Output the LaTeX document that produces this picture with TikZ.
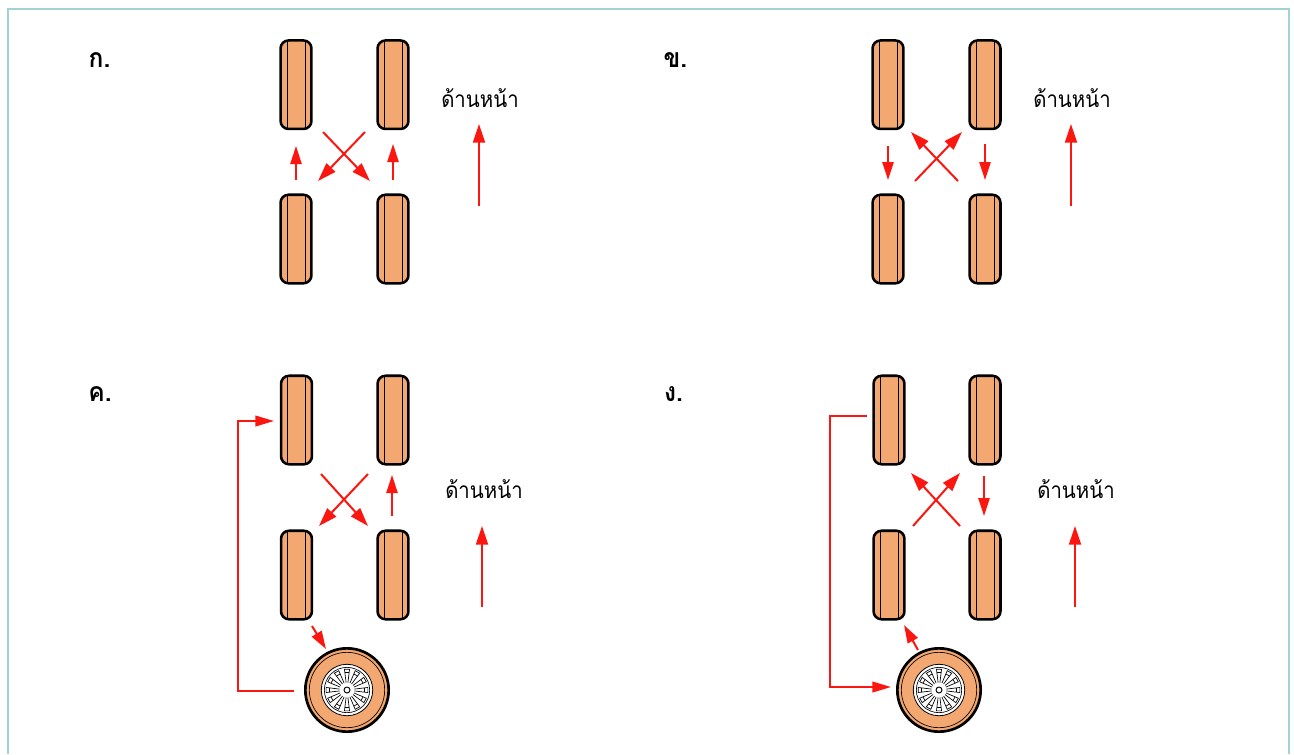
\documentclass[tikz,border=0pt]{standalone}
\usepackage{fontspec}
\usetikzlibrary{arrows.meta,calc}
\newfontfamily\thaifont[Script=Thai]{Loma}
\definecolor{tyre}{HTML}{F2A870}
\definecolor{frame}{HTML}{A3D3CF}
\definecolor{mark}{HTML}{FB1610}
\newcommand{\frontlabel}{\scalebox{.9}[1]{\thaifont ด้านหน้า}}
\newcommand{\panelletter}[1]{\scalebox{.92}[1]{\thaifont #1}}
% Alloy rim: twelve windows round a small hub
\newcommand{\wheeldetail}[1]{%
  \foreach \a in {0,30,...,330}{
    \draw[line width=.5pt] (#1) ++(\a-7:7.5) -- ++(\a-7:13.5)
      arc[start angle=\a-7,end angle=\a+7,radius=21]
      -- ++(\a+7+180:13.5);
    \draw[line width=.5pt]
      ($(#1)+(\a-7:17.5)$) -- ($(#1)+(\a+7:17.5)$);
  }
  \draw[line width=.7pt] (#1) circle[radius=3];
}
\tikzset{
  x=.75pt,y=-.75pt,
  wheelside/.style={
    draw=black,line width=1.9pt,fill=tyre,rounded corners=6pt,
    minimum width=23.2pt,minimum height=66.4pt,inner sep=0pt,outer sep=0pt,
    path picture={
      \draw[line width=.55pt]
        ([xshift=5pt]path picture bounding box.north west) --
        ([xshift=5pt]path picture bounding box.south west)
        ([xshift=-4.6pt]path picture bounding box.north east) --
        ([xshift=-4.6pt]path picture bounding box.south east);
    }},
  wheelface/.style={
    circle,draw=black,line width=2pt,fill=tyre,
    minimum size=62.5pt,inner sep=0pt,outer sep=0pt},
  rimface/.style={
    circle,draw=black,line width=.6pt,fill=white,
    minimum size=38.6pt,inner sep=0pt},
  treadline/.style={circle,draw=black,line width=.5pt,minimum size=56.5pt,inner sep=0pt},
  rimline/.style={circle,draw=black,line width=.5pt,minimum size=34pt,inner sep=0pt},
  movebig/.style={draw=mark,line width=1.5pt,-{Triangle[length=14pt,width=9pt]}},
  movesmall/.style={draw=mark,line width=1.5pt,-{Triangle[length=13.5pt,width=8.4pt]}},
  routeline/.style={draw=mark,line width=1.4pt,-{Triangle[length=14pt,width=8pt]}},
  panelmark/.style={font=\bfseries\fontsize{20pt}{24pt}\selectfont,inner sep=0pt},
  frontword/.style={font=\fontsize{17pt}{20pt}\selectfont,inner sep=0pt},
}
\begin{document}
\begin{tikzpicture}
\useasboundingbox (0,0) rectangle (1294,754);
\draw[frame,line width=1.7pt] (8,754) -- (8,9) -- (1289,9) -- (1289,754);

% Rotation with front wheels crossing forward
\node[panelmark] (la) at (99.5,60) {\panelletter{ก.}};
\node[wheelside] (a1) at (296,84.7) {};
\node[wheelside] (a2) at (393,84.7) {};
\node[wheelside] (a3) at (296,239) {};
\node[wheelside] (a4) at (393,239) {};
\node[frontword] (fa) at (480,98) {\frontlabel};
\coordinate (a5) at (296,180); \coordinate (a6) at (296,146);
\coordinate (a7) at (393,180); \coordinate (a8) at (393,144);
\coordinate (a9) at (365,132); \coordinate (a10) at (318,181);
\coordinate (a11) at (323,132); \coordinate (a12) at (370,181);
\coordinate (a13) at (479,206); \coordinate (a14) at (479,124);
\draw[movesmall] (a5) -- (a6);
\draw[movesmall] (a7) -- (a8);
\draw[movebig] (a9) -- (a10);
\draw[movebig] (a11) -- (a12);
\draw[movebig] (a13) -- (a14);

% Rotation with rear wheels crossing forward
\node[panelmark] (lb) at (675.5,60) {\panelletter{ข.}};
\node[wheelside] (b1) at (888,84.7) {};
\node[wheelside] (b2) at (985,84.7) {};
\node[wheelside] (b3) at (888,239) {};
\node[wheelside] (b4) at (985,239) {};
\node[frontword] (fb) at (1072,98) {\frontlabel};
\coordinate (b5) at (888,146); \coordinate (b6) at (888,180);
\coordinate (b7) at (985,144); \coordinate (b8) at (985,180);
\coordinate (b9) at (915,181); \coordinate (b10) at (962,132);
\coordinate (b11) at (958,181); \coordinate (b12) at (911,132);
\coordinate (b13) at (1071,206); \coordinate (b14) at (1071,124);
\draw[movesmall] (b5) -- (b6);
\draw[movesmall] (b7) -- (b8);
\draw[movebig] (b9) -- (b10);
\draw[movebig] (b11) -- (b12);
\draw[movebig] (b13) -- (b14);

% Five-wheel rotation, spare to front left
\node[panelmark] (lc) at (100,394) {\panelletter{ค.}};
\node[wheelside] (c1) at (296.5,420) {};
\node[wheelside] (c2) at (393,420) {};
\node[wheelside] (c3) at (296.5,575) {};
\node[wheelside] (c4) at (393,575) {};
\node[wheelface] (cw) at (347,690) {};
\node[treadline] (ct) at (cw) {};
\node[rimface] (cr) at (cw) {};
\node[rimline] (cl) at (cw) {};
\wheeldetail{cw}
\node[frontword] (fc) at (484,489) {\frontlabel};
\coordinate (c5) at (392,516); \coordinate (c6) at (392,475);
\coordinate (c7) at (368,474); \coordinate (c8) at (319,526);
\coordinate (c9) at (321,474); \coordinate (c10) at (368,526);
\coordinate (c11) at (482,607); \coordinate (c12) at (482,526);
\coordinate (c13) at (312,626); \coordinate (c14) at (326,649);
\coordinate (c15) at (294,691); \coordinate (c16) at (238,691);
\coordinate (c17) at (238,421); \coordinate (c18) at (274,421);
\draw[movesmall] (c5) -- (c6);
\draw[movebig] (c7) -- (c8);
\draw[movebig] (c9) -- (c10);
\draw[movebig] (c11) -- (c12);
\draw[movesmall] (c13) -- (c14);
\draw[routeline] (c15) -- (c16) -- (c17) -- (c18);

% Five-wheel rotation, front left to spare
\node[panelmark] (ld) at (673.5,394) {\panelletter{ง.}};
\node[wheelside] (d1) at (889,420) {};
\node[wheelside] (d2) at (985,420) {};
\node[wheelside] (d3) at (889,575) {};
\node[wheelside] (d4) at (985,575) {};
\node[wheelface] (dw) at (939,690) {};
\node[treadline] (dt) at (dw) {};
\node[rimface] (dr) at (dw) {};
\node[rimline] (dl) at (dw) {};
\wheeldetail{dw}
\node[frontword] (fd) at (1076,489) {\frontlabel};
\coordinate (d5) at (984,476); \coordinate (d6) at (984,516);
\coordinate (d7) at (960,526); \coordinate (d8) at (911,473);
\coordinate (d9) at (913,526); \coordinate (d10) at (960,473);
\coordinate (d11) at (1075,607); \coordinate (d12) at (1075,526);
\coordinate (d13) at (918,650); \coordinate (d14) at (904,625);
\coordinate (d15) at (867,416); \coordinate (d16) at (830,416);
\coordinate (d17) at (830,687); \coordinate (d18) at (891,687);
\draw[movesmall] (d5) -- (d6);
\draw[movebig] (d7) -- (d8);
\draw[movebig] (d9) -- (d10);
\draw[movebig] (d11) -- (d12);
\draw[movesmall] (d13) -- (d14);
\draw[routeline] (d15) -- (d16) -- (d17) -- (d18);
\end{tikzpicture}
\end{document}
